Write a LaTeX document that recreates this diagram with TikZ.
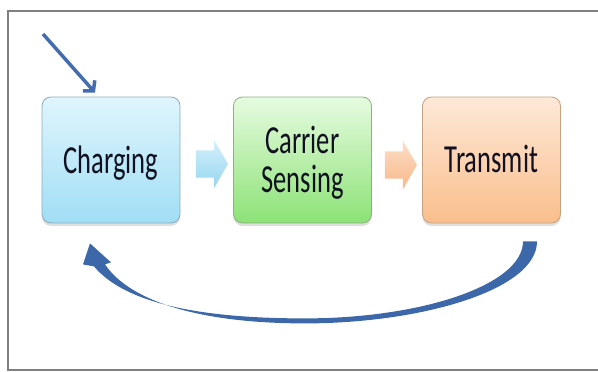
\documentclass[tikz,border=0pt]{standalone}
\usepackage{fontspec}
\setmainfont{Carlito}
\usepackage{graphicx}
\usetikzlibrary{shapes.arrows,shadows,calc,arrows.meta}

\definecolor{loopblue}{RGB}{60,104,170}
\definecolor{feedblue}{RGB}{68,108,176}
\definecolor{textink}{RGB}{16,16,32}
\definecolor{framegray}{RGB}{128,128,128}

\newcommand{\boxtext}[1]{\raisebox{-5pt}[\height][\depth]{\scalebox{1}[1.5]{\begin{tabular}{@{}c@{}}#1\end{tabular}}}}

\tikzset{
  stagebox/.style={draw, rounded corners=9pt, minimum width=138pt, minimum height=126pt,
    line width=0.8pt, text=textink, font=\fontsize{26.5}{25.3}\selectfont,
    drop shadow={shadow xshift=0pt, shadow yshift=-3pt, opacity=0.25}},
  flowarrow/.style={single arrow, minimum height=32pt, text height=27pt, text depth=0pt,
    single arrow head extend=10.5pt, single arrow tip angle=120, inner sep=0pt}
}

\begin{document}
\begin{tikzpicture}[x=1pt,y=-1pt]
\useasboundingbox (0,0) rectangle (598,372);
\draw [framegray,line width=1.2pt] (598,11) -- (8,11) -- (8,370) -- (598,370);

\node [stagebox,draw={rgb,255:red,140;green,172;blue,190},
       top color={rgb,255:red,224;green,245;blue,253},
       bottom color={rgb,255:red,160;green,222;blue,245}]  (charging) at (  111, 160) {\boxtext{Charging}};
\node [stagebox,draw={rgb,255:red,140;green,178;blue,130},
       top color={rgb,255:red,230;green,251;blue,224},
       bottom color={rgb,255:red,140;green,226;blue,118}]  (sensing)  at (302.5, 160) {\boxtext{Carrier\\ Sensing}};
\node [stagebox,draw={rgb,255:red,196;green,162;blue,130},
       top color={rgb,255:red,253;green,233;blue,216},
       bottom color={rgb,255:red,250;green,190;blue,140}]  (transmit) at (491.5, 160) {\boxtext{Transmit}};

\node [flowarrow,top color={rgb,255:red,212;green,240;blue,250},
       bottom color={rgb,255:red,150;green,214;blue,240}] (step1) at (208, 164) {};
\node [flowarrow,top color={rgb,255:red,252;green,222;blue,198},
       bottom color={rgb,255:red,248;green,184;blue,138}] (step2) at (397, 165) {};

\coordinate (feed) at (43,34);
\draw [feedblue,line width=3.5pt,-{Straight Barb[length=7pt,width=16pt]}]
    (feed) -- ([xshift=-16pt,yshift=4pt]charging.north);

\coordinate (tail) at ([xshift=38.5pt,yshift=-18pt]transmit.south);
\coordinate (tip)  at ([xshift=-21pt,yshift=-20pt]charging.south);
\fill [loopblue] ($(tail)+(-7,0)$) -- ($(tail)+(7,0)$)
    .. controls +(0,49) and +(115,0) .. ($(tip)+(215,80)$)
    .. controls +(-105,0) and +(25,37) .. ($(tip)+(15,21)$)
    -- ($(tip)+(21,19)$) -- (tip) -- ($(tip)+(-7,21)$) -- ($(tip)+(4,23)$)
    .. controls +(31,37) and +(-105,0) .. ($(tip)+(215,75)$)
    .. controls +(115,0) and +(0,44) .. ($(tail)+(-7,0)$) -- cycle;
\end{tikzpicture}
\end{document}
